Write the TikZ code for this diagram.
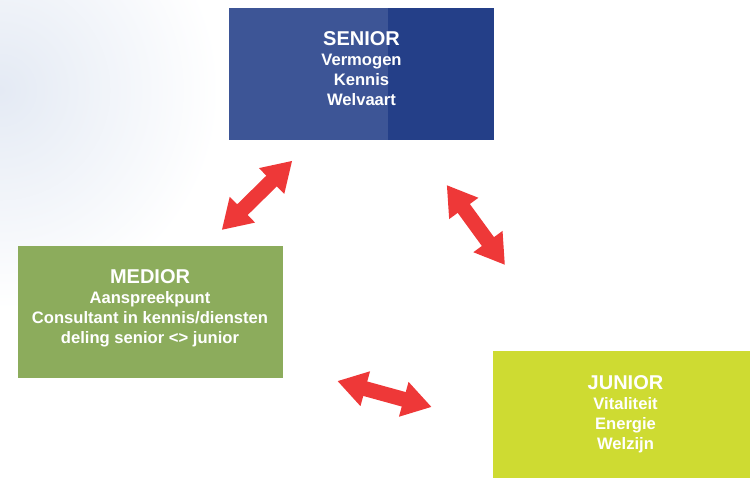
\documentclass[tikz,border=0pt]{standalone}
\usepackage{fontspec}
\setmainfont{Liberation Sans}
\usetikzlibrary{positioning}
\usetikzlibrary{arrows.meta}

\definecolor{seniorblue}{RGB}{61,85,150}
\definecolor{seniordark}{RGB}{36,63,136}
\definecolor{mediorgreen}{RGB}{140,172,92}
\definecolor{juniorlime}{RGB}{206,219,50}
\definecolor{arrowred}{RGB}{238,56,56}
\definecolor{bgblue}{RGB}{228,234,244}

\begin{document}
\begin{tikzpicture}[x=1pt, y=-1pt,
  every node/.style={minimum width=265pt, minimum height=132pt, inner sep=0pt},
  label text/.style={minimum width=0pt, minimum height=0pt, text=white, align=center, font=\fontsize{16.6}{20}\selectfont\bfseries},
  exchange/.style={line width=15pt, color=arrowred, {Triangle[width=34pt,length=29pt]}-{Triangle[width=34pt,length=29pt]}}]

  \useasboundingbox (0,0) rectangle (750,477);
  \clip (0,0) rectangle (750,477);
  \shade [inner color=bgblue, outer color=white] (0,90) circle (220);

  \node [fill=seniorblue, path picture={\fill [seniordark] ([xshift=-106pt]path picture bounding box.north east) rectangle (path picture bounding box.south east);}] (senior) at (361.5,74) {};
  \node [label text, below=24pt of senior.north] (senior text) {{\fontsize{20}{21}\selectfont SENIOR}\\Vermogen\\Kennis\\Welvaart};

  \node [fill=mediorgreen] (medior) at (150,312) {};
  \node [label text, below=24pt of medior.north] (medior text) {{\fontsize{20}{21}\selectfont MEDIOR}\\Aanspreekpunt\\Consultant in kennis/diensten\\deling senior <> junior};

  \node [fill=juniorlime] (junior) at (625.5,417) {};
  \node [label text, below=25pt of junior.north] (junior text) {{\fontsize{20}{21}\selectfont JUNIOR}\\Vitaliteit\\Energie\\Welzijn};

  \coordinate (ms a) at (221.7,230);
  \coordinate (ms b) at (292.3,160.7);
  \coordinate (sj a) at (446.7,185);
  \coordinate (sj b) at (505,265);
  \coordinate (mj a) at (337.3,381);
  \coordinate (mj b) at (431.7,407);

  \draw [exchange] (ms a) -- (ms b);
  \draw [exchange] (sj a) -- (sj b);
  \draw [exchange] (mj a) -- (mj b);
\end{tikzpicture}
\end{document}
